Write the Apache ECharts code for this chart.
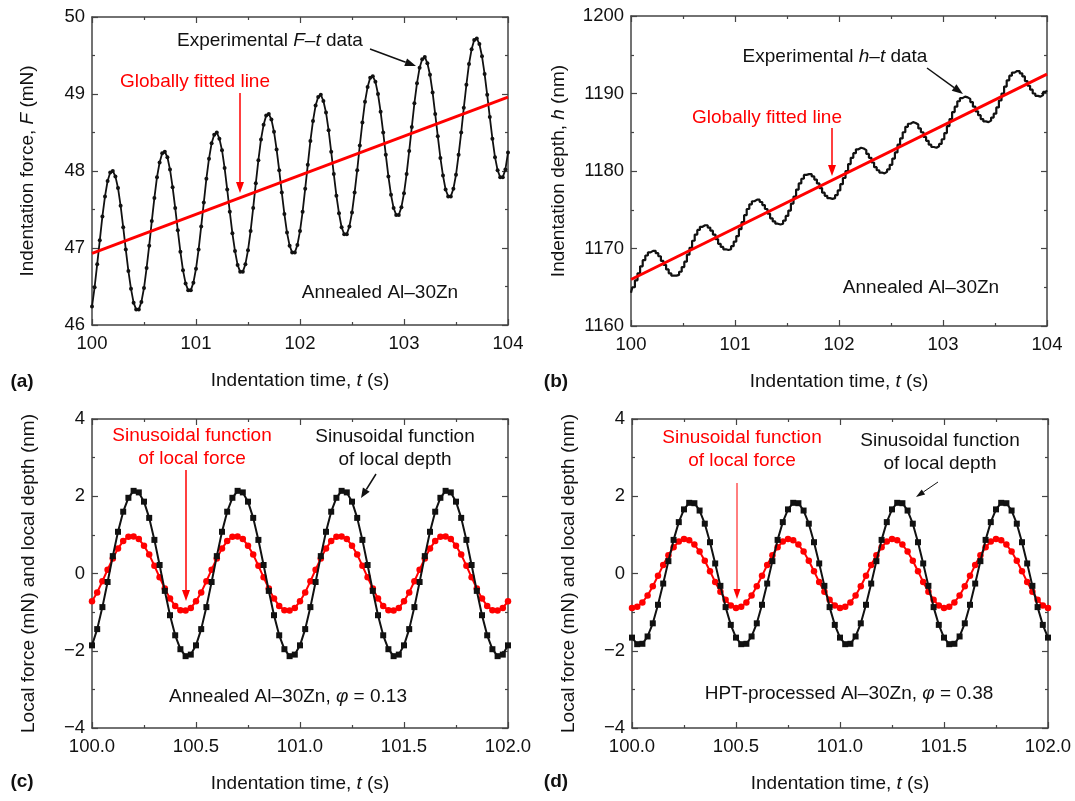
<!DOCTYPE html>
<html>
<head>
<meta charset="utf-8">
<script src="https://cdn.jsdelivr.net/npm/echarts@6/dist/echarts.min.js"></script>
<style>
  html, body { margin: 0; padding: 0; background: #fff; }
  #chart { width: 1075px; height: 801px; }
</style>
</head>
<body>
<div id="chart"></div>
<script>
// sampling of the recorded / fitted curves (s)
const tStart = 100;
const tStep = 0.025;

// (a) experimental F-t data, mN
const forceA = [
  46.24, 46.49, 46.79, 47.10, 47.41, 47.67, 47.87, 47.98, 48.00, 47.93, 47.78, 47.55, 47.27, 46.98, 46.70, 46.47, 46.29, 46.20, 46.20, 46.30,
  46.48, 46.74, 47.03, 47.35, 47.65, 47.92, 48.11, 48.23, 48.25, 48.18, 48.02, 47.79, 47.52, 47.23, 46.95, 46.71, 46.54, 46.45, 46.45, 46.55,
  46.73, 46.98, 47.28, 47.59, 47.90, 48.16, 48.36, 48.47, 48.50, 48.42, 48.27, 48.04, 47.76, 47.47, 47.19, 46.96, 46.78, 46.69, 46.69, 46.79,
  46.97, 47.22, 47.52, 47.84, 48.14, 48.41, 48.60, 48.72, 48.74, 48.67, 48.51, 48.28, 48.01, 47.72, 47.44, 47.20, 47.03, 46.94, 46.94, 47.04,
  47.22, 47.47, 47.77, 48.08, 48.39, 48.65, 48.85, 48.96, 48.99, 48.91, 48.76, 48.53, 48.25, 47.96, 47.68, 47.45, 47.27, 47.18, 47.18, 47.28,
  47.46, 47.72, 48.01, 48.33, 48.63, 48.90, 49.09, 49.21, 49.23, 49.16, 49.00, 48.77, 48.50, 48.21, 47.93, 47.69, 47.52, 47.43, 47.43, 47.53,
  47.71, 47.96, 48.26, 48.57, 48.88, 49.14, 49.34, 49.45, 49.48, 49.40, 49.25, 49.02, 48.74, 48.45, 48.17, 47.94, 47.76, 47.67, 47.67, 47.77,
  47.95, 48.21, 48.50, 48.82, 49.12, 49.39, 49.58, 49.70, 49.72, 49.65, 49.49, 49.26, 48.99, 48.70, 48.42, 48.18, 48.01, 47.92, 47.92, 48.02,
  48.24
];
// (a) globally fitted line, at t = 100 and t = 104
const fitTimes = [100, 104];
const fitForceA = [46.93, 48.96];

// (b) experimental h-t data, nm
const depthB = [
  1164.3, 1165.0, 1165.9, 1166.8, 1167.7, 1168.5, 1169.1, 1169.5, 1169.7, 1169.7, 1169.4, 1169.0, 1168.4, 1167.9, 1167.3, 1166.8, 1166.5, 1166.5, 1166.6, 1167.0,
  1167.6, 1168.3, 1169.2, 1170.1, 1171.0, 1171.8, 1172.4, 1172.8, 1173.0, 1173.0, 1172.7, 1172.3, 1171.8, 1171.2, 1170.6, 1170.2, 1169.9, 1169.8, 1169.9, 1170.3,
  1170.9, 1171.6, 1172.5, 1173.4, 1174.3, 1175.1, 1175.7, 1176.1, 1176.3, 1176.3, 1176.0, 1175.6, 1175.1, 1174.5, 1173.9, 1173.5, 1173.2, 1173.1, 1173.2, 1173.6,
  1174.2, 1174.9, 1175.8, 1176.7, 1177.6, 1178.4, 1179.0, 1179.5, 1179.6, 1179.6, 1179.3, 1178.9, 1178.4, 1177.8, 1177.2, 1176.8, 1176.5, 1176.4, 1176.5, 1176.9,
  1177.5, 1178.3, 1179.1, 1180.0, 1180.9, 1181.7, 1182.3, 1182.8, 1183.0, 1182.9, 1182.7, 1182.2, 1181.7, 1181.1, 1180.5, 1180.1, 1179.8, 1179.7, 1179.9, 1180.2,
  1180.8, 1181.6, 1182.4, 1183.4, 1184.2, 1185.0, 1185.7, 1186.1, 1186.3, 1186.2, 1186.0, 1185.5, 1185.0, 1184.4, 1183.9, 1183.4, 1183.1, 1183.0, 1183.2, 1183.5,
  1184.1, 1184.9, 1185.8, 1186.7, 1187.6, 1188.3, 1189.0, 1189.4, 1189.6, 1189.5, 1189.3, 1188.9, 1188.3, 1187.7, 1187.2, 1186.7, 1186.4, 1186.3, 1186.5, 1186.9,
  1187.4, 1188.2, 1189.1, 1190.0, 1190.9, 1191.7, 1192.3, 1192.7, 1192.9, 1192.9, 1192.6, 1192.2, 1191.6, 1191.0, 1190.5, 1190.0, 1189.7, 1189.6, 1189.8, 1190.2,
  1190.4
];
const fitDepthB = [1166.0, 1192.5];

// (c) annealed: local force (mN) and local depth (nm)
const forceC = [
  -0.72, -0.49, -0.20, 0.10, 0.39, 0.65, 0.84, 0.95, 0.96, 0.89, 0.72, 0.49, 0.20, -0.10, -0.39, -0.65, -0.84, -0.95, -0.96, -0.89,
  -0.72, -0.49, -0.20, 0.10, 0.39, 0.65, 0.84, 0.95, 0.96, 0.89, 0.72, 0.49, 0.20, -0.10, -0.39, -0.65, -0.84, -0.95, -0.96, -0.89,
  -0.72, -0.49, -0.20, 0.10, 0.39, 0.65, 0.84, 0.95, 0.96, 0.89, 0.72, 0.49, 0.20, -0.10, -0.39, -0.65, -0.84, -0.95, -0.96, -0.89,
  -0.72, -0.49, -0.20, 0.10, 0.39, 0.65, 0.84, 0.95, 0.96, 0.89, 0.72, 0.49, 0.20, -0.10, -0.39, -0.65, -0.84, -0.95, -0.96, -0.89,
  -0.72
];
const depthC = [
  -1.86, -1.44, -0.87, -0.22, 0.45, 1.08, 1.60, 1.96, 2.14, 2.10, 1.86, 1.44, 0.87, 0.22, -0.45, -1.08, -1.60, -1.96, -2.14, -2.10,
  -1.86, -1.44, -0.87, -0.22, 0.45, 1.08, 1.60, 1.96, 2.14, 2.10, 1.86, 1.44, 0.87, 0.22, -0.45, -1.08, -1.60, -1.96, -2.14, -2.10,
  -1.86, -1.44, -0.87, -0.22, 0.45, 1.08, 1.60, 1.96, 2.14, 2.10, 1.86, 1.44, 0.87, 0.22, -0.45, -1.08, -1.60, -1.96, -2.14, -2.10,
  -1.86, -1.44, -0.87, -0.22, 0.45, 1.08, 1.60, 1.96, 2.14, 2.10, 1.86, 1.44, 0.87, 0.22, -0.45, -1.08, -1.60, -1.96, -2.14, -2.10,
  -1.86
];

// (d) HPT-processed: local force (mN) and local depth (nm)
const forceD = [
  -0.89, -0.86, -0.75, -0.57, -0.33, -0.06, 0.22, 0.47, 0.68, 0.83, 0.89, 0.86, 0.75, 0.57, 0.33, 0.06, -0.22, -0.47, -0.68, -0.83,
  -0.89, -0.86, -0.75, -0.57, -0.33, -0.06, 0.22, 0.47, 0.68, 0.83, 0.89, 0.86, 0.75, 0.57, 0.33, 0.06, -0.22, -0.47, -0.68, -0.83,
  -0.89, -0.86, -0.75, -0.57, -0.33, -0.06, 0.22, 0.47, 0.68, 0.83, 0.89, 0.86, 0.75, 0.57, 0.33, 0.06, -0.22, -0.47, -0.68, -0.83,
  -0.89, -0.86, -0.75, -0.57, -0.33, -0.06, 0.22, 0.47, 0.68, 0.83, 0.89, 0.86, 0.75, 0.57, 0.33, 0.06, -0.22, -0.47, -0.68, -0.83,
  -0.89
];
const depthD = [
  -1.66, -1.83, -1.82, -1.63, -1.29, -0.81, -0.26, 0.32, 0.87, 1.33, 1.66, 1.83, 1.82, 1.63, 1.29, 0.81, 0.26, -0.32, -0.87, -1.33,
  -1.66, -1.83, -1.82, -1.63, -1.29, -0.81, -0.26, 0.32, 0.87, 1.33, 1.66, 1.83, 1.82, 1.63, 1.29, 0.81, 0.26, -0.32, -0.87, -1.33,
  -1.66, -1.83, -1.82, -1.63, -1.29, -0.81, -0.26, 0.32, 0.87, 1.33, 1.66, 1.83, 1.82, 1.63, 1.29, 0.81, 0.26, -0.32, -0.87, -1.33,
  -1.66, -1.83, -1.82, -1.63, -1.29, -0.81, -0.26, 0.32, 0.87, 1.33, 1.66, 1.83, 1.82, 1.63, 1.29, 0.81, 0.26, -0.32, -0.87, -1.33,
  -1.66
];

const FONT = '"Liberation Sans", Arial, sans-serif';
const RED = '#ff0000';
const INK = '#111';
const AXIS = '#444';

function pairs(values) {
  return values.map(function (v, i) { return [tStart + i * tStep, v]; });
}

const italic = { fontStyle: 'italic', fontSize: 19, fontFamily: FONT, color: INK };

function xAxes(grid, min, max, interval, fmt) {
  const common = {
    gridIndex: grid, type: 'value', min: min, max: max, interval: interval,
    axisLine: { show: true, onZero: false, lineStyle: { color: AXIS, width: 1.5 } },
    axisTick: { show: true, inside: true, length: 6, lineStyle: { color: AXIS, width: 1.2 } },
    minorTick: { show: true, splitNumber: 2, length: 3, lineStyle: { color: AXIS, width: 1.2 } },
    splitLine: { show: false }
  };
  return [
    Object.assign({}, common, {
      position: 'bottom',
      axisLabel: { fontSize: 18.5, fontFamily: FONT, color: INK, margin: 9, formatter: fmt },
      name: 'Indentation time, {i|t} (s)', nameLocation: 'middle', nameGap: 46,
      nameTextStyle: { fontSize: 19, fontFamily: FONT, color: INK, rich: { i: italic } }
    }),
    Object.assign({}, common, { position: 'top', axisLabel: { show: false } })
  ];
}

function yAxes(grid, min, max, interval, name, gap, fmt) {
  const common = {
    gridIndex: grid, type: 'value', min: min, max: max, interval: interval,
    axisLine: { show: true, onZero: false, lineStyle: { color: AXIS, width: 1.5 } },
    axisTick: { show: true, inside: true, length: 6, lineStyle: { color: AXIS, width: 1.2 } },
    minorTick: { show: true, splitNumber: 2, length: 3, lineStyle: { color: AXIS, width: 1.2 } },
    splitLine: { show: false }
  };
  return [
    Object.assign({}, common, {
      position: 'left',
      axisLabel: { fontSize: 18.5, fontFamily: FONT, color: INK, margin: 7, formatter: fmt },
      name: name, nameLocation: 'middle', nameGap: gap,
      nameTextStyle: { fontSize: 19, fontFamily: FONT, color: INK, rich: { i: italic } }
    }),
    Object.assign({}, common, { position: 'right', axisLabel: { show: false } })
  ];
}

const plain = function (v) { return String(v); };
const oneDecimal = function (v) { return v.toFixed(1); };
const minus = function (v) { return String(v).replace('-', '\u2212'); };

function text(x, y, str, color, extra) {
  return {
    type: 'text', x: x, y: y, z: 100,
    style: Object.assign({
      text: str, fill: color, fontSize: 19, fontFamily: FONT,
      align: 'center', verticalAlign: 'middle', lineHeight: 23,
      rich: { i: { fontStyle: 'italic', fontSize: 19, fontFamily: FONT, fill: color } }
    }, extra || {})
  };
}

function arrow(x1, y1, x2, y2, color, width, len, half) {
  const a = Math.atan2(y2 - y1, x2 - x1);
  const bx = x2 - len * Math.cos(a), by = y2 - len * Math.sin(a);
  const nx = -Math.sin(a) * half, ny = Math.cos(a) * half;
  return [
    { type: 'line', z: 100, shape: { x1: x1, y1: y1, x2: bx, y2: by }, style: { stroke: color, lineWidth: width } },
    { type: 'polygon', z: 100, shape: { points: [[x2, y2], [bx + nx, by + ny], [bx - nx, by - ny]] }, style: { fill: color } }
  ];
}

const graphics = [].concat(
  // (a)
  text(270, 41, 'Experimental {i|F}\u2013{i|t} data', INK),
  arrow(370, 49, 416, 66, INK, 1.5, 11, 4),
  text(195, 82, 'Globally fitted line', RED),
  arrow(240, 93, 240, 193, RED, 1.5, 11, 4),
  text(380, 293, 'Annealed Al\u201330Zn', INK),
  // (b)
  text(835, 57, 'Experimental {i|h}\u2013{i|t} data', INK),
  arrow(927, 68, 963, 94, INK, 1.5, 11, 4),
  text(767, 118, 'Globally fitted line', RED),
  arrow(832, 128, 832, 176, RED, 1.5, 11, 4),
  text(921, 288, 'Annealed Al\u201330Zn', INK),
  // (c)
  text(192, 447, 'Sinusoidal function\nof local force', RED),
  arrow(186, 470, 186, 601, RED, 1.5, 11, 4),
  text(395, 448, 'Sinusoidal function\nof local depth', INK),
  arrow(376, 474, 361, 498, INK, 1.5, 10, 4),
  text(288, 697, 'Annealed Al\u201330Zn, {i|\u03c6} = 0.13', INK),
  // (d)
  text(742, 449, 'Sinusoidal function\nof local force', RED),
  arrow(737, 483, 737, 599, RED, 1, 10, 3.5),
  text(940, 452, 'Sinusoidal function\nof local depth', INK),
  arrow(938, 482, 916, 497, INK, 1, 9, 3),
  text(849, 694, 'HPT-processed Al\u201330Zn, {i|\u03c6} = 0.38', INK),
  // panel letters
  text(22, 382, '(a)', INK, { fontWeight: 'bold' }),
  text(556, 382, '(b)', INK, { fontWeight: 'bold' }),
  text(22, 782, '(c)', INK, { fontWeight: 'bold' }),
  text(556, 782, '(d)', INK, { fontWeight: 'bold' })
);

const chart = echarts.init(document.getElementById('chart'), null, { renderer: 'canvas' });

const options = {
  animation: false,
  backgroundColor: '#fff',
  grid: [
    { left: 92, top: 17, width: 416, height: 308 },
    { left: 631, top: 16, width: 416, height: 310 },
    { left: 92, top: 419, width: 416, height: 309 },
    { left: 632, top: 419, width: 416, height: 309 }
  ],
  xAxis: [].concat(
    xAxes(0, 100, 104, 1, plain),
    xAxes(1, 100, 104, 1, plain),
    xAxes(2, 100, 102, 0.5, oneDecimal),
    xAxes(3, 100, 102, 0.5, oneDecimal)
  ),
  yAxis: [].concat(
    yAxes(0, 46, 50, 1, 'Indentation force, {i|F} (mN)', 55, plain),
    yAxes(1, 1160, 1200, 10, 'Indentation depth, {i|h} (nm)', 63, plain),
    yAxes(2, -4, 4, 2, 'Local force (mN) and local depth (nm)', 54, minus),
    yAxes(3, -4, 4, 2, 'Local force (mN) and local depth (nm)', 54, minus)
  ),
  series: [
    {
      type: 'line', xAxisIndex: 0, yAxisIndex: 0, data: pairs(forceA),
      symbol: 'circle', symbolSize: 4, showSymbol: true,
      lineStyle: { color: INK, width: 1.8 }, itemStyle: { color: INK }, z: 2
    },
    {
      type: 'line', xAxisIndex: 0, yAxisIndex: 0,
      data: fitTimes.map(function (t, i) { return [t, fitForceA[i]]; }),
      symbol: 'none', lineStyle: { color: RED, width: 3 }, z: 3
    },
    {
      type: 'line', xAxisIndex: 2, yAxisIndex: 2, data: pairs(depthB),
      step: 'middle', symbol: 'none', lineStyle: { color: INK, width: 2.2 }, z: 2
    },
    {
      type: 'line', xAxisIndex: 2, yAxisIndex: 2,
      data: fitTimes.map(function (t, i) { return [t, fitDepthB[i]]; }),
      symbol: 'none', lineStyle: { color: RED, width: 3 }, z: 3
    },
    {
      type: 'line', xAxisIndex: 4, yAxisIndex: 4, data: pairs(forceC),
      symbol: 'circle', symbolSize: 6.5, showSymbol: true,
      lineStyle: { color: RED, width: 2 }, itemStyle: { color: RED }, z: 2
    },
    {
      type: 'line', xAxisIndex: 4, yAxisIndex: 4, data: pairs(depthC),
      symbol: 'rect', symbolSize: 6, showSymbol: true,
      lineStyle: { color: INK, width: 2 }, itemStyle: { color: INK }, z: 3
    },
    {
      type: 'line', xAxisIndex: 6, yAxisIndex: 6, data: pairs(forceD),
      symbol: 'circle', symbolSize: 6.5, showSymbol: true,
      lineStyle: { color: RED, width: 2 }, itemStyle: { color: RED }, z: 2
    },
    {
      type: 'line', xAxisIndex: 6, yAxisIndex: 6, data: pairs(depthD),
      symbol: 'rect', symbolSize: 6, showSymbol: true,
      lineStyle: { color: INK, width: 2 }, itemStyle: { color: INK }, z: 3
    }
  ],
  graphic: graphics
};

chart.setOption(options);
window.addEventListener('resize', function () { chart.resize(); });
</script>
</body>
</html>
